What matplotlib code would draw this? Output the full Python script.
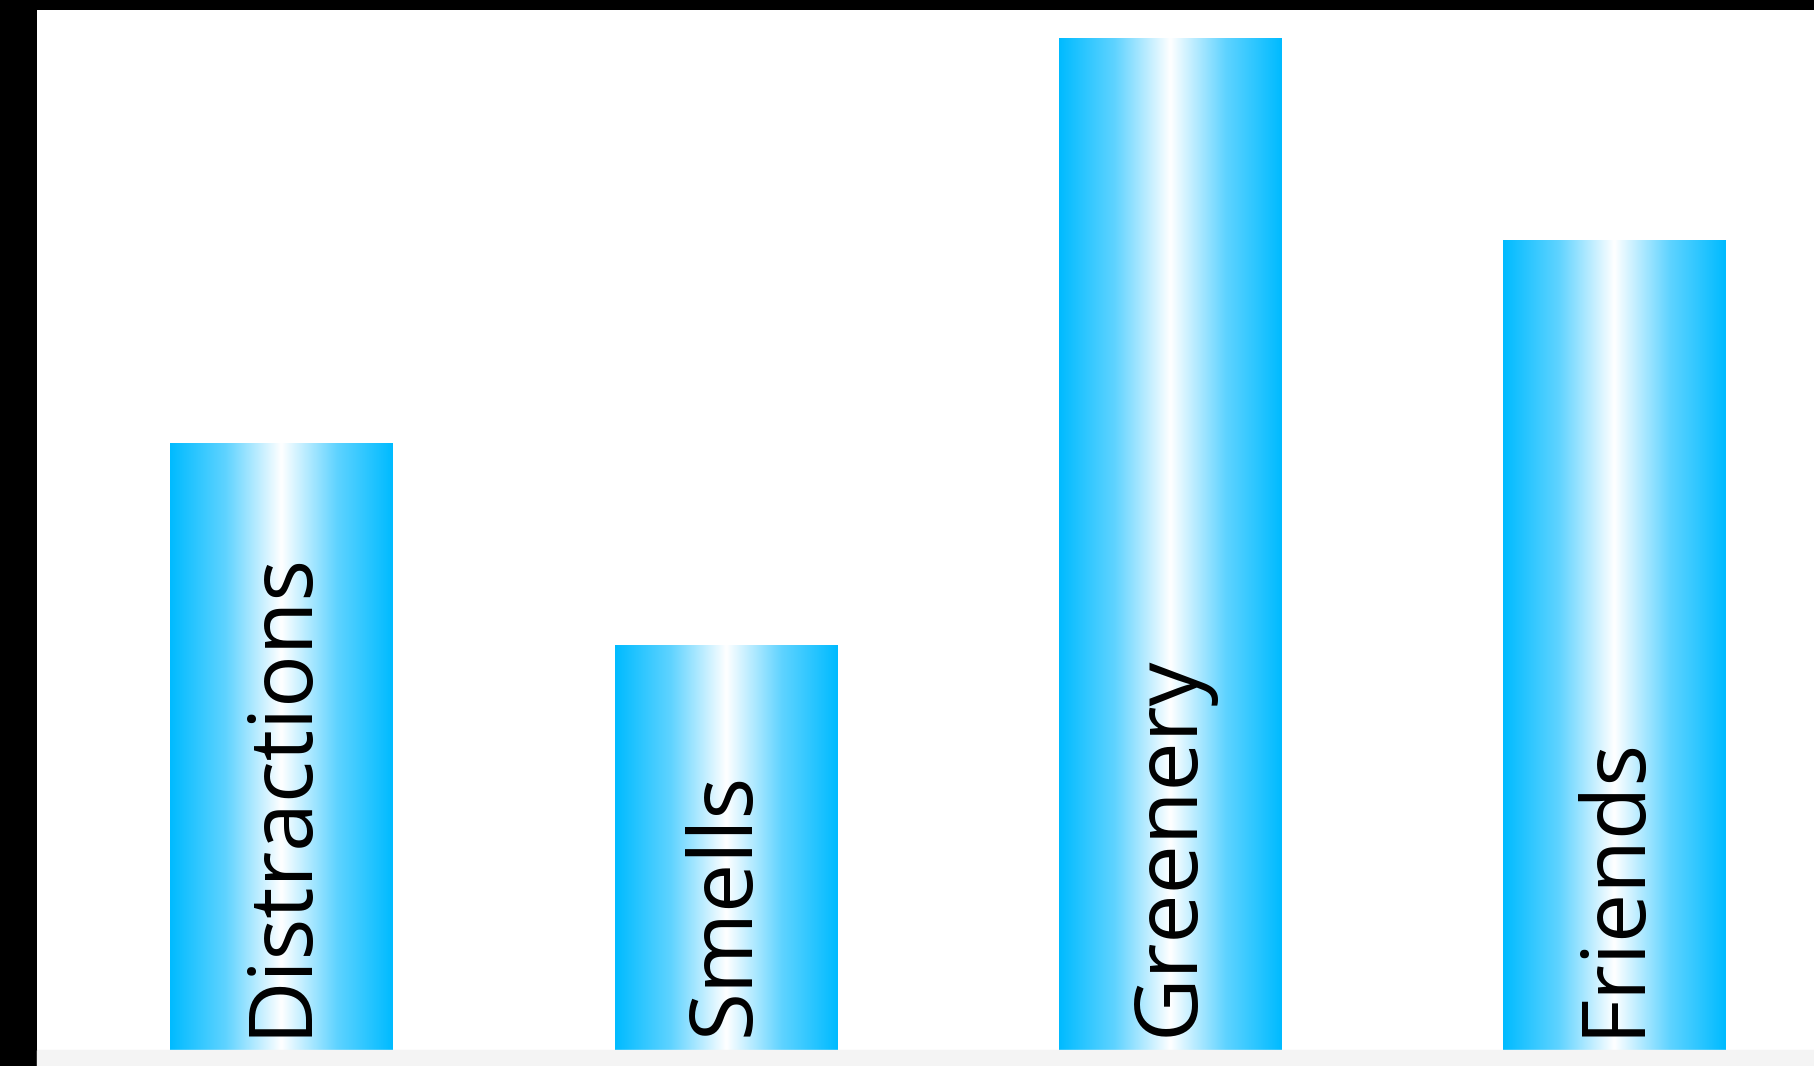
import matplotlib
matplotlib.use("Agg")
import matplotlib.pyplot as plt
import numpy as np
from matplotlib.colors import LinearSegmentedColormap
from matplotlib.patches import Rectangle

categories = ["Distractions", "Smells", "Greenery", "Friends"]
values = [3, 2, 5, 4]

W, H = 1814, 1066
fig = plt.figure(figsize=(W / 100, H / 100), dpi=100)
fig.patch.set_facecolor("black")

# light strip along the bottom
fig.patches.append(Rectangle((37 / W, 0), 1 - 37 / W, 16 / H,
                             transform=fig.transFigure, color="#f4f4f4", zorder=0))

ax = fig.add_axes([37 / W, 16 / H, 1 - 37 / W, (1050 - 10) / H])
ax.set_facecolor("white")
for s in ax.spines.values():
    s.set_visible(False)
ax.set_xticks([])
ax.set_yticks([])

cmap = LinearSegmentedColormap.from_list(
    "glow", ["#00bbff", "#5fd3ff", "#ffffff", "#5fd3ff", "#00bbff"])
grad = np.linspace(0, 1, 256).reshape(1, -1)

x = np.arange(len(categories))
bars = ax.bar(x, values, width=0.5, color="none", edgecolor="none")
for bar, name in zip(bars, categories):
    x0, w, h = bar.get_x(), bar.get_width(), bar.get_height()
    im = ax.imshow(grad, cmap=cmap, aspect="auto", extent=(x0, x0 + w, 0, h),
                   interpolation="bicubic", zorder=2)
    im.set_clip_path(bar)
    ax.text(x0 + w / 2, 0.07, name, rotation=90, ha="center", va="bottom",
            fontsize=63, family="Open Sans", color="black", zorder=3)

ax.set_xlim(-0.55, 3.45)
ax.set_ylim(0, 5.138)

fig.savefig("out.png", dpi=100, facecolor=fig.get_facecolor())
